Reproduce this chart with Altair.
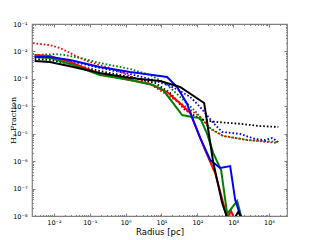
import json
import altair as alt
import pandas as pd

# ---- data (radius in pc, H2 fraction) ----
dotted_red_r = [0.0026, 0.0077, 0.0147, 0.028, 0.053, 0.10, 0.37, 1.33, 4.8, 17.4, 45.6, 120, 228, 526, 2460, 16900]
dotted_red_f = [2.0e-2, 1.7e-2, 1.33e-2, 8.8e-3, 5.8e-3, 4.1e-3, 2.5e-3, 1.27e-3, 6.5e-4, 2.2e-4, 1.0e-4, 4.1e-5, 1.5e-5, 8.3e-6, 5.9e-6, 4.6e-6]

dotted_green_r = [0.0029, 0.0107, 0.020, 0.053, 0.19, 1.33, 4.8, 12.6, 33, 87, 228, 526, 2460, 16900]
dotted_green_f = [7.4e-3, 8.0e-3, 7.4e-3, 5.8e-3, 3.8e-3, 2.3e-3, 1.38e-3, 7.1e-4, 2.2e-4, 6.7e-5, 1.6e-5, 8.3e-6, 5.9e-6, 5.0e-6]

dotted_blue_r = [0.0029, 0.0077, 0.028, 0.19, 1.33, 4.8, 17.4, 33, 63, 120, 276, 493, 1570, 4120, 7830, 12300, 18100]
dotted_blue_f = [6.3e-3, 5.8e-3, 4.5e-3, 2.5e-3, 1.5e-3, 9.9e-4, 5.5e-4, 3.6e-4, 2.2e-4, 9.4e-5, 2.5e-5, 1.16e-5, 9.8e-6, 6.4e-6, 5.9e-6, 7.0e-6, 5.0e-6]

dotted_black_r = [0.0029, 0.0077, 0.028, 0.19, 1.33, 6.6, 17.4, 45.6, 120, 314, 1570, 5680, 18100]
dotted_black_f = [5.3e-3, 4.9e-3, 3.5e-3, 1.93e-3, 1.17e-3, 7.1e-4, 3.05e-4, 7.3e-5, 3.4e-5, 2.7e-5, 2.3e-5, 1.9e-5, 1.76e-5]

solid_red_r = [0.0029, 0.0077, 0.028, 0.19, 1.33, 4.8, 14.3, 33, 63, 165, 314, 526, 680, 880, 1140]
solid_red_f = [7.4e-3, 6.8e-3, 4.1e-3, 1.5e-3, 9.1e-4, 6.5e-4, 3.3e-4, 1.3e-4, 5.7e-5, 2.5e-6, 3.7e-7, 3.0e-8, 8.5e-9, 1.5e-8, 6e-9]

solid_green_r = [0.0029, 0.0077, 0.028, 0.19, 1.33, 5.8, 11.1, 21.1, 37.6, 71.6, 120, 188, 276, 460, 680, 1290, 1780]
solid_green_f = [6.3e-3, 5.8e-3, 3.5e-3, 1.38e-3, 9.1e-4, 6.0e-4, 3.9e-4, 1.3e-4, 4.8e-5, 4.1e-5, 3.7e-5, 9.8e-6, 2.0e-6, 4.75e-7, 1.2e-8, 3.5e-8, 7e-9]

solid_blue_r = [0.0029, 0.0077, 0.028, 0.19, 1.33, 9.1, 14.3, 27.3, 51.9, 76, 120, 228, 433, 824, 1140, 1670]
solid_blue_f = [6.3e-3, 6.3e-3, 4.9e-3, 2.7e-3, 1.78e-3, 1.27e-3, 1.17e-3, 5.05e-4, 1.21e-4, 3.2e-5, 7.0e-6, 1.1e-6, 5.6e-7, 6.6e-7, 3.8e-8, 8.5e-9]

solid_black_r = [0.0029, 0.0077, 0.028, 0.19, 1.33, 9.1, 33, 155, 276, 493, 680, 1000, 1380, 1900]
solid_black_f = [4.5e-3, 4.1e-3, 2.9e-3, 1.64e-3, 1.07e-3, 8.4e-4, 5.05e-4, 1.32e-4, 9.3e-7, 3.0e-8, 8.5e-9, 7e-9, 1.4e-8, 7e-9]

x_major = [1e-2, 1e-1, 1e0, 1e1, 1e2, 1e3, 1e4]
x_labels = ["10⁻²", "10⁻¹", "10⁰", "10¹", "10²", "10³", "10⁴"]
y_major = [1e-8, 1e-7, 1e-6, 1e-5, 1e-4, 1e-3, 1e-2, 1e-1]
y_labels = ["10⁻⁸", "10⁻⁷", "10⁻⁶", "10⁻⁵", "10⁻⁴", "10⁻³", "10⁻²", "10⁻¹"]

x_dom = [0.00244, 31700]
y_dom = [1e-8, 1e-1]

x_minor = [k * 10.0 ** n for n in range(-3, 5) for k in range(2, 10)
           if x_dom[0] <= k * 10.0 ** n <= x_dom[1]]
y_minor = [k * 10.0 ** n for n in range(-8, -1) for k in range(2, 10)
           if y_dom[0] <= k * 10.0 ** n <= y_dom[1]]

series = [
    (dotted_red_r, dotted_red_f, "#ff0000", True),
    (dotted_green_r, dotted_green_f, "#008000", True),
    (dotted_blue_r, dotted_blue_f, "#0000ff", True),
    (dotted_black_r, dotted_black_f, "#000000", True),
    (solid_red_r, solid_red_f, "#ff0000", False),
    (solid_green_r, solid_green_f, "#008000", False),
    (solid_blue_r, solid_blue_f, "#0000ff", False),
    (solid_black_r, solid_black_f, "#000000", False),
]

xs = alt.Scale(type="log", domain=x_dom, nice=False)
ys = alt.Scale(type="log", domain=y_dom, nice=False)

GRAY = "#808080"
layers = []
for r, f, color, dotted in series:
    df = pd.DataFrame({"r": r, "f": f})
    kw = dict(color=color, clip=True, strokeWidth=2)
    if dotted:
        kw.update(strokeDash=[1.6, 2.0], strokeWidth=1.8)
    layers.append(
        alt.Chart(df).mark_line(**kw).encode(
            x=alt.X("r:Q", scale=xs, axis=None),
            y=alt.Y("f:Q", scale=ys, axis=None),
        )
    )

dummy = pd.DataFrame({"r": [1.0], "f": [1e-3]})


def tick_axis(orient, values, size, labels=None, title=None, **extra):
    kw = dict(orient=orient, values=values, tickSize=size, offset=-size,
              domain=False, grid=False, tickColor=GRAY, tickWidth=1,
              labels=labels is not None, title=title, labelFlush=False,
              labelOverlap=False)
    if labels is not None:
        kw["labelExpr"] = json.dumps(labels) + "[round(log(datum.value)/LN10)+%d]" % extra.pop("shift")
    kw.update(extra)
    return alt.Axis(**kw)


ax_layer1 = alt.Chart(dummy).mark_point(opacity=0).encode(
    x=alt.X("r:Q", scale=xs, axis=tick_axis(
        "bottom", x_major, 3, labels=x_labels, shift=2, title="Radius [pc]",
        labelFont="DejaVu Sans", labelFontSize=6.5, labelColor="#000", labelPadding=3,
        titleFont="DejaVu Sans", titleFontSize=8.5, titleFontWeight="normal",
        titleColor="#000", titleY=21, titleBaseline="alphabetic")),
    y=alt.Y("f:Q", scale=ys, axis=tick_axis(
        "left", y_major, 3, labels=y_labels, shift=8, title="H₂ Fraction",
        labelFont="DejaVu Sans", labelFontSize=6.5, labelColor="#000", labelPadding=5,
        titleFont="DejaVu Serif", titleFontSize=8, titleFontWeight="normal",
        titleColor="#000", titleX=-20, titleBaseline="alphabetic")),
)
ax_layer2 = alt.Chart(dummy).mark_point(opacity=0).encode(
    x=alt.X("r:Q", scale=xs, axis=tick_axis("top", x_major, 3)),
    y=alt.Y("f:Q", scale=ys, axis=tick_axis("right", y_major, 3)),
)
ax_layer3 = alt.Chart(dummy).mark_point(opacity=0).encode(
    x=alt.X("r:Q", scale=xs, axis=tick_axis("bottom", x_minor, 1.5)),
    y=alt.Y("f:Q", scale=ys, axis=tick_axis("left", y_minor, 1.5)),
)
ax_layer4 = alt.Chart(dummy).mark_point(opacity=0).encode(
    x=alt.X("r:Q", scale=xs, axis=tick_axis("top", x_minor, 1.5)),
    y=alt.Y("f:Q", scale=ys, axis=tick_axis("right", y_minor, 1.5)),
)

chart = alt.layer(ax_layer1, ax_layer2, ax_layer3, ax_layer4, *layers).resolve_axis(
    x="independent", y="independent"
).properties(
    width=255, height=192,
    autosize=alt.AutoSizeParams(type="none"),
    padding={"left": 24, "top": 16, "right": 25, "bottom": 23},
    background="white",
).configure_view(stroke=GRAY, strokeWidth=1.2)

chart.save("out.html", embed_options={"renderer": "svg", "actions": False})
